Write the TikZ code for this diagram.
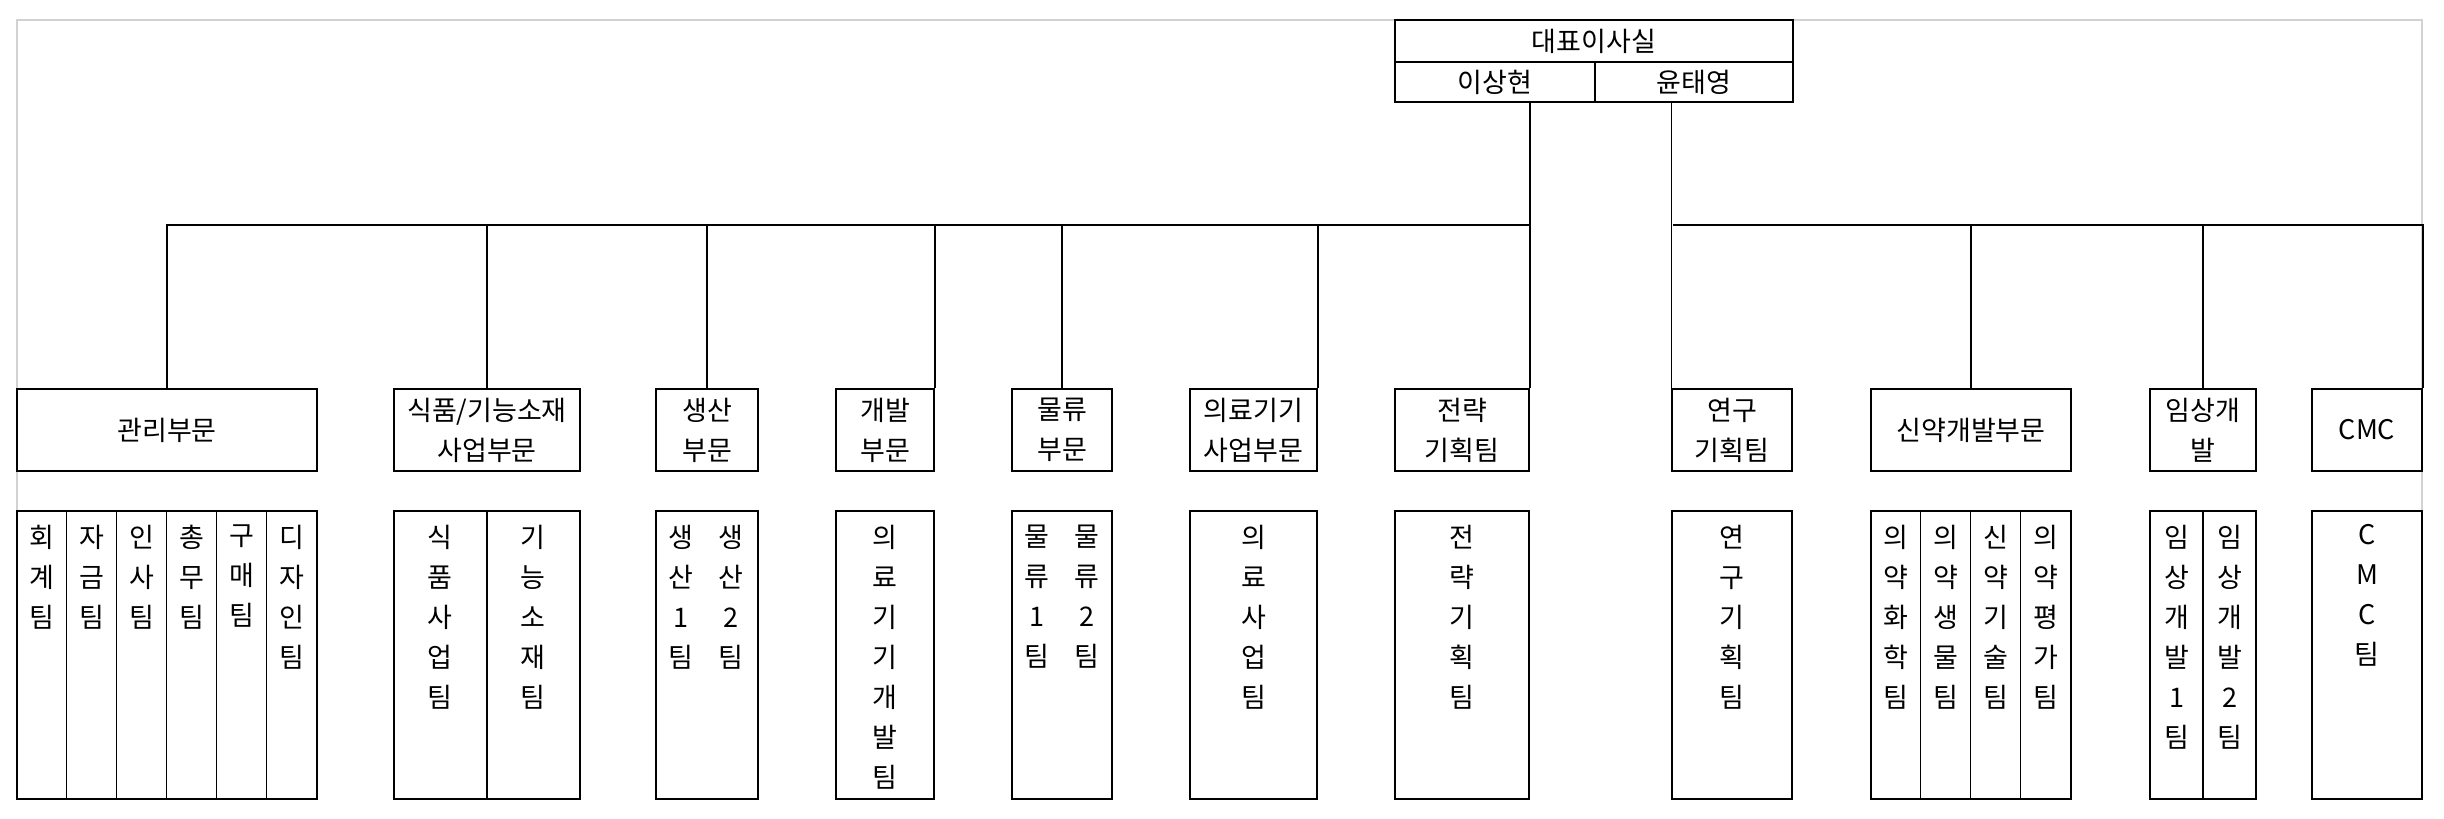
\documentclass[tikz,border=0pt]{standalone}
\usepackage{fontspec}
\setmainfont{Noto Sans CJK KR}
\usetikzlibrary{calc}

\begin{document}
\begin{tikzpicture}[x=1pt, y=-1pt, line width=1.5pt]
  \tikzset{every node/.style={font=\fontsize{27}{40}\selectfont}}
  \tikzset{ceobox/.style={draw, inner sep=0pt, minimum height=40pt}}
  \tikzset{dept/.style={draw, inner sep=0pt, align=center, minimum height=82pt}}
  \tikzset{team/.style={draw, inner sep=0pt, minimum height=288pt}}
  \tikzset{vcol/.style={anchor=north, align=center, inner sep=0pt}}
  \useasboundingbox (0,0) rectangle (2444,819);
  % kader
  \draw[gray!35] (17,800) -- (17,20) -- (2422,20) -- (2422,800);
  % 대표이사실
  \node[ceobox, minimum width=398pt, minimum height=42pt] (ceo) at (1594,41) {대표이사실};
  \node[ceobox, minimum width=200pt] (lee) at (1495,82) {이상현};
  \node[ceobox, minimum width=198pt] (yoon) at (1694,82) {윤태영};
  % 부문
  \node[dept, minimum width=300pt] (mgmt) at (167,430) {관리부문};
  \node[dept, minimum width=186pt] (food) at (487,430) {식품/기능소재\\사업부문};
  \node[dept, minimum width=102pt] (prod) at (707,430) {생산\\부문};
  \node[dept, minimum width=98pt] (dev) at (885,430) {개발\\부문};
  \node[dept, minimum width=100pt] (logi) at (1062,430) {물류\\부문};
  \node[dept, minimum width=127pt] (med) at (1253.5,430) {의료기기\\사업부문};
  \node[dept, minimum width=134pt] (strat) at (1462,430) {전략\\기획팀};
  \node[dept, minimum width=120pt] (resp) at (1732,430) {연구\\기획팀};
  \node[dept, minimum width=200pt] (drug) at (1971,430) {신약개발부문};
  \node[dept, minimum width=106pt] (clin) at (2203,430) {임상개\\발};
  \node[dept, minimum width=110pt] (cmc) at (2367,430) {CMC};
  % verbindingen
  \coordinate (busL) at (1530,225);
  \coordinate (busR) at (1673,225);
  \draw (lee.south -| strat.north east) -- (strat.north east);
  \draw (yoon.south -| resp.north west) -- (resp.north west);
  \foreach \a in {mgmt.north, food.north, prod.north, dev.north east, logi.north, med.north east}
    \draw (\a) |- (busL);
  \foreach \a in {drug.north, clin.north, cmc.north east}
    \draw (\a) |- (busR);
  % teams
  \node[team, minimum width=300pt] (mgmtT) at (167,655) {};
  \node[team, minimum width=186pt] (foodT) at (487,655) {};
  \node[team, minimum width=102pt] (prodT) at (707,655) {};
  \node[team, minimum width=98pt] (devT) at (885,655) {};
  \node[team, minimum width=100pt] (logiT) at (1062,655) {};
  \node[team, minimum width=127pt] (medT) at (1253.5,655) {};
  \node[team, minimum width=134pt] (stratT) at (1462,655) {};
  \node[team, minimum width=120pt] (respT) at (1732,655) {};
  \node[team, minimum width=200pt] (drugT) at (1971,655) {};
  \node[team, minimum width=106pt] (clinT) at (2203,655) {};
  \node[team, minimum width=110pt] (cmcT) at (2367,655) {};
  % scheidingen
  \foreach \i in {1,...,5}
    \draw ($(mgmtT.north west)+(\i*50,0)$) -- ($(mgmtT.south west)+(\i*50,0)$);
  \foreach \i in {1,2,3}
    \draw ($(drugT.north west)+(\i*50,0)$) -- ($(drugT.south west)+(\i*50,0)$);
  \draw (foodT.north) -- (foodT.south);
  \draw (clinT.north) -- (clinT.south);
  % teamnamen
  \foreach \lab [count=\i] in {회\\계\\팀, 자\\금\\팀, 인\\사\\팀, 총\\무\\팀, 구\\매\\팀, 디\\자\\인\\팀}
    \node[vcol] (mgmt\i) at (\i*50-8,524) {\lab};
  \node[vcol] (food1) at (440,524) {식\\품\\사\\업\\팀};
  \node[vcol] (food2) at (533,524) {기\\능\\소\\재\\팀};
  \node[vcol] (prod1) at (681,524) {생\\산\\1\\팀};
  \node[vcol] (prod2) at (731,524) {생\\산\\2\\팀};
  \node[vcol] (dev1) at (885,524) {의\\료\\기\\기\\개\\발\\팀};
  \node[vcol] (logi1) at (1037,524) {물\\류\\1\\팀};
  \node[vcol] (logi2) at (1087,524) {물\\류\\2\\팀};
  \node[vcol] (med1) at (1253.5,524) {의\\료\\사\\업\\팀};
  \node[vcol] (strat1) at (1462,524) {전\\략\\기\\획\\팀};
  \node[vcol] (resp1) at (1732,524) {연\\구\\기\\획\\팀};
  \foreach \lab [count=\i] in {의\\약\\화\\학\\팀, 의\\약\\생\\물\\팀, 신\\약\\기\\술\\팀, 의\\약\\평\\가\\팀}
    \node[vcol] (drug\i) at (1846+\i*50,524) {\lab};
  \node[vcol] (clin1) at (2176.5,524) {임\\상\\개\\발\\1\\팀};
  \node[vcol] (clin2) at (2229.5,524) {임\\상\\개\\발\\2\\팀};
  \node[vcol] (cmc1) at (2367,524) {C\\M\\C\\팀};
\end{tikzpicture}
\end{document}
